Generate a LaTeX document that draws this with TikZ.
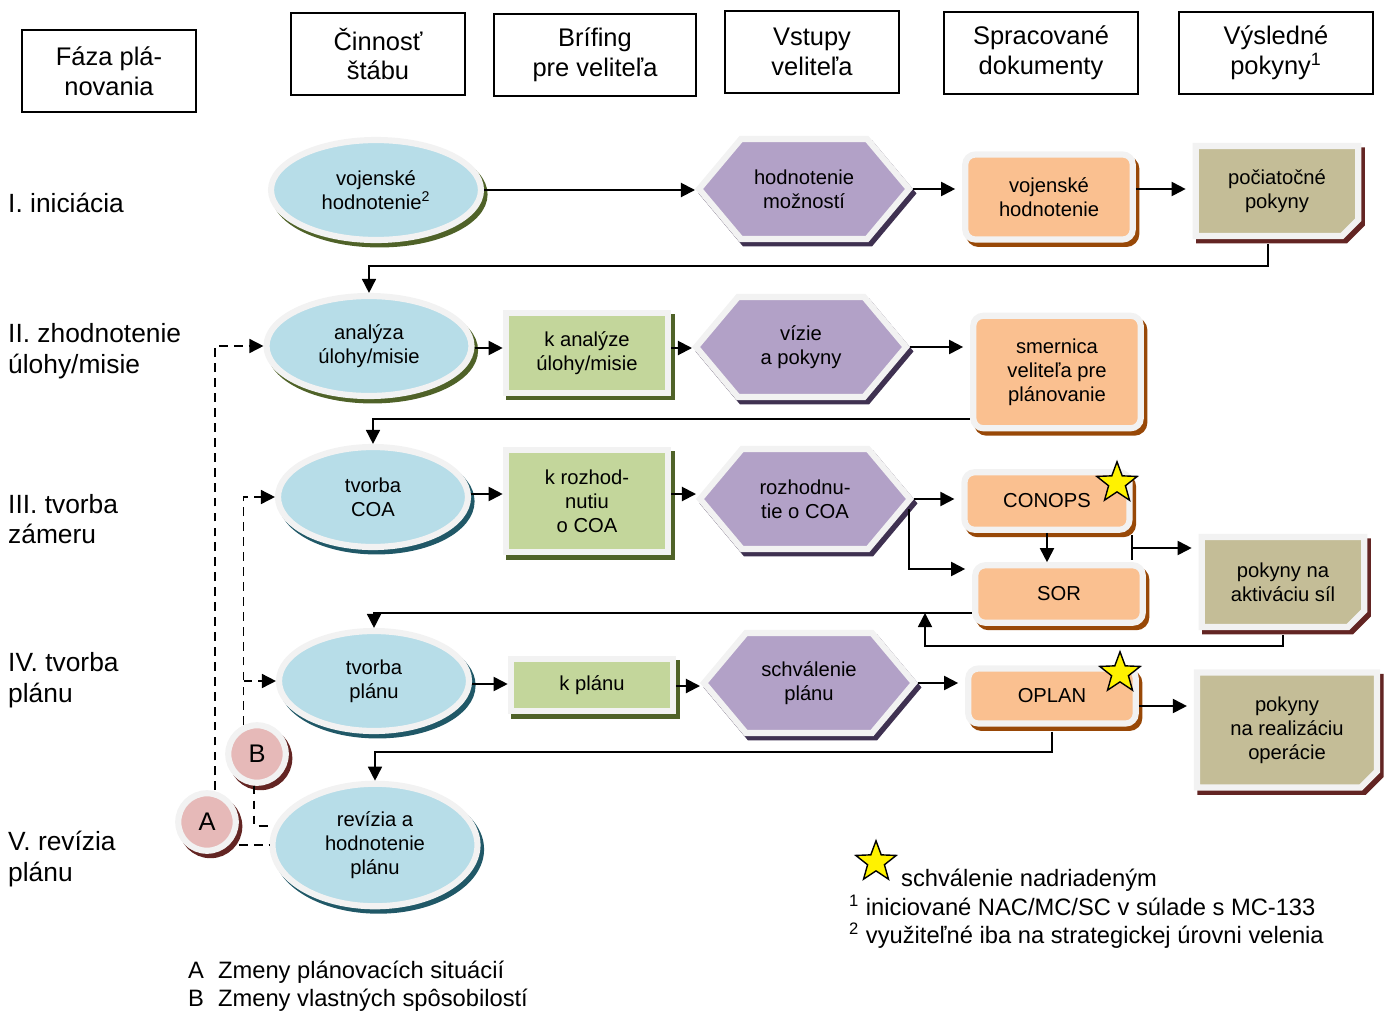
\documentclass[tikz,border=0pt]{standalone}
\usepackage{fontspec}
\setmainfont{Liberation Sans}
\usepackage{tikz}
\usetikzlibrary{shapes.geometric, shapes.symbols, shapes.misc, shadows, arrows.meta, calc}

\definecolor{rim}{HTML}{F2F2F2}
\definecolor{ellblue}{HTML}{B7DDE8}
\definecolor{hexlila}{HTML}{B2A1C7}
\definecolor{docorange}{HTML}{FAC090}
\definecolor{brfgreen}{HTML}{C3D69B}
\definecolor{notekhaki}{HTML}{C4BD97}
\definecolor{circpink}{HTML}{E6B9B8}
\definecolor{olvdark}{HTML}{4F6228}
\definecolor{tealdark}{HTML}{205867}
\definecolor{lildark}{HTML}{3F3151}
\definecolor{browndark}{HTML}{984807}
\definecolor{maroondark}{HTML}{632523}

\newcommand\boxfont{\fontsize{11.5}{13.6}\selectfont}
\newcommand\hdrfont{\fontsize{14.5}{17}\selectfont}
\newcommand\rowfont{\fontsize{15}{17.5}\selectfont}
\newcommand\legfont{\fontsize{13.5}{16}\selectfont}

\begin{document}
\begin{tikzpicture}[x=0.02cm, y=-0.02cm,
  hdr/.style={rectangle, draw=black, line width=1pt, fill=white,
              minimum width=3.48cm, minimum height=1.64cm, font=\hdrfont, align=center},
  phase/.style={anchor=west, font=\rowfont, align=left},
  dshadow/.style={drop shadow={shadow xshift=2pt, shadow yshift=-2.5pt,
              fill=#1, draw=#1, line width=3.5pt, opacity=1}},
  base/.style={draw=rim, line width=3.5pt, font=\boxfont, align=center, inner sep=2pt},
  ell/.style={base, ellipse, fill=ellblue, minimum width=3.8cm, minimum height=2cm},
  hexa/.style={base, signal, signal to=east and west, signal pointer angle=100,
              fill=hexlila, dshadow=lildark, minimum width=4.2cm, minimum height=2cm},
  docbox/.style={base, rectangle, rounded corners=0.2cm, fill=docorange, dshadow=browndark,
              minimum width=3.35cm, minimum height=1.15cm},
  brf/.style={base, rectangle, fill=brfgreen, dshadow=olvdark, minimum width=3.25cm},
  notebox/.style={base, chamfered rectangle, chamfered rectangle corners=south east,
              chamfered rectangle xsep=0.2cm, fill=notekhaki, dshadow=maroondark,
              minimum width=3.25cm, minimum height=1.8cm},
  circ/.style={base, circle, fill=circpink, dshadow=maroondark, minimum size=1.15cm,
              font=\hdrfont},
  starn/.style={star, star points=5, star point ratio=2.4, minimum size=0.85cm,
              inner sep=0pt, fill=yellow, draw=black, line width=0.8pt},
  arr/.style={-{Triangle[length=8pt,width=8pt]}, line width=1.1pt},
  ret/.style={-{Triangle[length=8pt,width=8pt]}, line width=0.9pt},
  darr/.style={-{Triangle[length=8pt,width=8pt]}, line width=0.9pt, dash pattern=on 5pt off 3.5pt},
  dln/.style={line width=0.9pt, dash pattern=on 5pt off 3.5pt}
]
  \useasboundingbox (0,0) rectangle (1392,1014);

  \node[hdr] (hFaza)    at (109,71)  {Fáza plá-\\novania};
  \node[hdr] (hCinnost) at (378,54)  {Činnosť\\štábu};
  \node[hdr, minimum width=4.04cm] (hBrifing) at (595,55) {Brífing\\pre veliteľa};
  \node[hdr] (hVstupy)  at (812,52)  {Vstupy\\veliteľa};
  \node[hdr, minimum width=3.88cm] (hSprac) at (1041,53) {Spracované\\dokumenty};
  \node[hdr, minimum width=3.88cm] (hVysl)  at (1276,53) {Výsledné\\pokyny\textsuperscript{1}};

  \node[phase] (lI)   at (2,203) {I. iniciácia};
  \node[phase] (lII)  at (2,351) {II. zhodnotenie\\úlohy/misie};
  \node[phase] (lIII) at (2,519) {III. tvorba\\zámeru};
  \node[phase] (lIV)  at (2,680) {IV. tvorba\\plánu};
  \node[phase] (lV)   at (2,859) {V. revízia\\plánu};

  \node[ell, dshadow=olvdark, minimum width=4.2cm] (vh) at (376,190) {vojenské\\hodnotenie\textsuperscript{2}};
  \node[hexa] (hm)  at (804,189)  {hodnotenie\\možností};
  \node[docbox, minimum height=1.7cm] (vhd) at (1049,197) {vojenské\\hodnotenie};
  \node[notebox] (pp) at (1277,191) {počiatočné\\pokyny};

  \node[ell, dshadow=olvdark, minimum width=4.1cm] (au) at (369,346) {analýza\\úlohy/misie};
  \node[brf, minimum height=1.6cm] (kau) at (587,353) {k analýze\\úlohy/misie};
  \node[hexa] (vp)  at (801,347) {vízie\\a pokyny};
  \node[docbox, minimum height=2.25cm] (smp) at (1057,372) {smernica\\veliteľa pre\\plánovanie};

  \node[ell, dshadow=tealdark] (tcoa) at (373,497) {tvorba\\COA};
  \node[brf, minimum height=2.05cm] (krn) at (587,501) {k rozhod-\\nutiu\\o COA};
  \node[hexa] (rcoa) at (805,499) {rozhodnu-\\tie o COA};
  \node[docbox, minimum width=3.3cm] (conops) at (1047,501) {CONOPS};
  \node[docbox] (sor) at (1059,594) {SOR};
  \node[notebox] (pas) at (1283,582) {pokyny na\\aktiváciu síl};

  \node[ell, dshadow=tealdark] (tpl) at (374,681) {tvorba\\plánu};
  \node[brf, minimum height=1.05cm] (kpl) at (592,685) {k plánu};
  \node[hexa] (spl) at (809,683) {schválenie\\plánu};
  \node[docbox, minimum height=1.1cm] (oplan) at (1052,696) {OPLAN};
  \node[notebox, minimum width=3.6cm, minimum height=2.3cm] (pro) at (1287,730) {pokyny\\na realizáciu\\operácie};

  \node[ell, dshadow=tealdark, minimum width=4.1cm, minimum height=2.45cm] (rhp) at (375,845) {revízia a\\hodnotenie\\plánu};
  \node[circ] (cB) at (257,754) {B};
  \node[circ] (cA) at (207,822) {A};

  \node[starn] (st1) at (1117,483) {};
  \node[starn] (st2) at (1120,673) {};
  \node[starn] (st3) at (876,862) {};

  \coordinate (j1) at (0,266);
  \coordinate (j2) at (0,419);
  \coordinate (j3) at (0,569);
  \coordinate (j4) at (0,613);
  \coordinate (j5) at (925,646);
  \coordinate (j6) at (0,752);
  \coordinate (j7) at (0,826);
  \coordinate (brT) at (1132,535);
  \coordinate (brB) at (1132,560);
  \coordinate (brM) at (1132,548);

  \draw[arr] (vh.east) -- (vh.east -| hm.west);
  \draw[arr, shorten >=4pt] (hm.east) -- (hm.east -| vhd.west);
  \draw[arr, shorten >=4pt] (vhd.east |- hm.east) -- (hm.east -| pp.west);
  \draw[ret, shorten <=3pt] ([xshift=-0.18cm]pp.south) |- (au.north |- j1) -- (au.north);

  \draw[arr] (au.east |- 0,348) -- (kau.west |- 0,348);
  \draw[arr] (kau.east |- 0,348) -- (vp.west |- 0,348);
  \draw[arr, shorten >=4pt] (vp.east) -- (vp.east -| smp.west);
  \draw[ret] (smp.west |- j2) -| (tcoa.north);

  \draw[arr] (tcoa.east |- 0,494) -- (krn.west |- 0,494);
  \draw[arr] (krn.east |- 0,494) -- (rcoa.west |- 0,494);
  \draw[arr, shorten >=4pt] (rcoa.east) -- (rcoa.east -| conops.west);
  \draw[arr, shorten >=4pt] ([xshift=-0.1cm,yshift=-0.2cm]rcoa.east) |- (sor.west |- j3);
  \draw[arr] (conops.south) -- (conops.south |- sor.north);
  \draw[line width=0.9pt] (brT) -- (brB);
  \draw[arr, shorten >=4pt] (brM) -- (brM -| pas.west);
  \draw[ret] (sor.west |- j4) -| (tpl.north);
  \draw[ret, shorten <=3pt] (pas.south) |- (j5) -- (j5 |- j4);

  \draw[arr] (tpl.east |- 0,684) -- (kpl.west |- 0,684);
  \draw[arr] (kpl.east |- 0,686) -- (spl.west |- 0,686);
  \draw[arr, shorten >=4pt] (spl.east) -- (spl.east -| oplan.west);
  \draw[arr, shorten >=4pt] (oplan.east |- 0,706) -- (pro.west |- 0,706);
  \draw[ret, shorten <=3pt] (oplan.south) |- (rhp.north |- j6) -- (rhp.north);

  \draw[darr] ([xshift=0.16cm]cA.north) |- (au.west);
  \draw[dln] (rhp.west -| cA.east) -- (rhp.west);
  \draw[darr] (cB.115) |- (tcoa.west);
  \draw[darr] (cB.115 |- tpl.west) -- (tpl.west);
  \draw[dln] (cB.265) |- (rhp.west |- j7);

  \node[anchor=west, font=\legfont] (leg1) at (895,880) {schválenie nadriadeným};
  \node[anchor=west, font=\legfont, align=left] (leg2) at (843,922)
    {\textsuperscript{1} iniciované NAC/MC/SC v súlade s MC-133\\\textsuperscript{2} využiteľné iba na strategickej úrovni velenia};
  \node[anchor=west, font=\legfont, align=left] (legAB) at (182,986)
    {A\hspace{8pt}Zmeny plánovacích situácií\\B\hspace{8pt}Zmeny vlastných spôsobilostí};
\end{tikzpicture}
\end{document}
